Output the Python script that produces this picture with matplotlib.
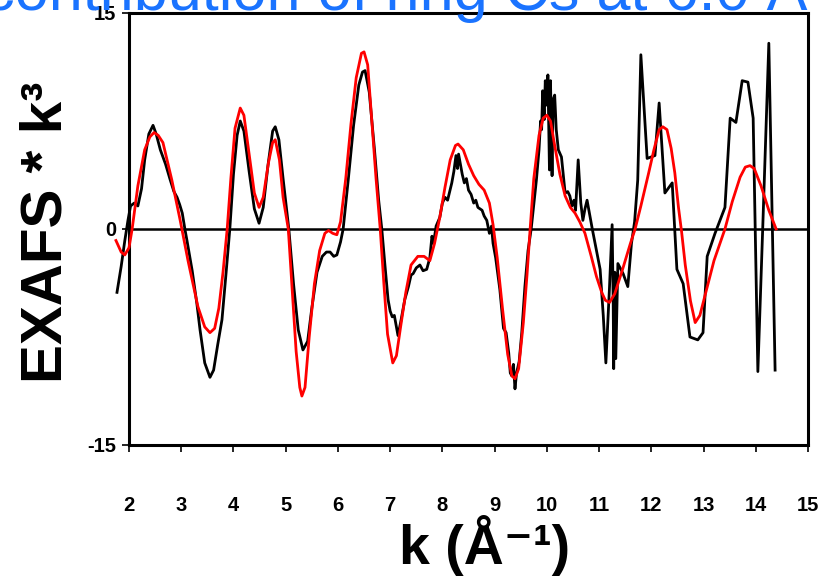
import matplotlib
matplotlib.use("Agg")
import matplotlib.pyplot as plt

plt.rcParams["axes.unicode_minus"] = False

BOLD = ["Liberation Sans", "DejaVu Sans"]

# experimental EXAFS * k^3 (black)
k_data = [1.77, 1.85, 1.92, 1.98, 2.03, 2.10, 2.17, 2.24, 2.30, 2.38, 2.46, 2.52, 2.60, 2.70,
          2.79, 2.86, 2.92, 2.97, 3.02, 3.07, 3.11, 3.21, 3.30, 3.36, 3.45, 3.55, 3.62, 3.70,
          3.78, 3.86, 3.93, 4.00, 4.07, 4.13, 4.20, 4.30, 4.40, 4.49, 4.57, 4.66, 4.75, 4.80,
          4.87, 4.95, 5.06, 5.15, 5.24, 5.33, 5.42, 5.50, 5.60, 5.70, 5.78, 5.85, 5.92, 5.98,
          6.05, 6.10, 6.20, 6.30, 6.40, 6.47, 6.52, 6.60, 6.70, 6.78, 6.84, 6.90, 6.96, 7.00,
          7.04, 7.08, 7.12, 7.15, 7.20, 7.28, 7.35, 7.40, 7.44, 7.50, 7.57, 7.63, 7.70, 7.76,
          7.80, 7.83, 7.88, 7.95, 8.00, 8.05, 8.10, 8.18, 8.22, 8.26, 8.29, 8.31, 8.34, 8.38,
          8.42, 8.46, 8.50, 8.55, 8.60, 8.64, 8.68, 8.72, 8.76, 8.80, 8.85, 8.90, 8.94, 8.97,
          9.02, 9.10, 9.17, 9.22, 9.27, 9.30, 9.33, 9.36, 9.39, 9.42, 9.47, 9.52, 9.58, 9.64,
          9.70, 9.76, 9.80, 9.85, 9.88, 9.90, 9.92, 9.95, 9.97, 10.00, 10.02, 10.05, 10.07, 10.10,
          10.12, 10.15, 10.18, 10.22, 10.28, 10.35, 10.40, 10.44, 10.48, 10.52, 10.55, 10.60,
          10.65, 10.69, 10.73, 10.77, 10.82, 10.87, 10.95, 11.02, 11.08, 11.13, 11.20, 11.25,
          11.27, 11.28, 11.30, 11.32, 11.36, 11.46, 11.55, 11.62, 11.68, 11.74, 11.80, 11.92,
          12.07, 12.15, 12.26, 12.40, 12.49, 12.61, 12.74, 12.89, 12.99, 13.07, 13.22, 13.41,
          13.51, 13.62, 13.74, 13.85, 13.95, 14.04, 14.14, 14.25, 14.37]
chi_data = [-4.4, -2.6, -0.8, 0.6, 1.6, 1.8, 1.6, 2.8, 4.8, 6.6, 7.2, 6.6, 5.5, 4.5,
            3.4, 2.6, 2.2, 1.7, 1.1, 0.0, -0.8, -2.9, -5.2, -7.0, -9.3, -10.3, -9.8, -8.0,
            -6.3, -3.0, 0.0, 3.8, 6.5, 7.5, 6.8, 4.0, 1.4, 0.4, 1.5, 4.4, 6.8, 7.1,
            6.2, 3.5, 0.0, -3.8, -7.0, -8.4, -7.8, -5.5, -3.0, -1.9, -1.6, -1.6, -1.9, -1.8,
            -0.9, 0.0, 3.5, 7.2, 10.0, 10.9, 11.0, 9.5, 5.5, 2.0, 0.0, -2.5, -4.9, -5.7,
            -6.1, -6.0, -6.8, -7.4, -6.5, -4.9, -4.0, -3.2, -3.1, -2.7, -2.5, -2.9, -2.8, -2.0,
            -0.5, -1.0, 0.2, 0.8, 1.8, 2.2, 2.0, 3.2, 4.0, 5.1, 4.2, 5.2, 4.6, 3.8,
            3.2, 3.5, 2.7, 2.4, 1.8, 2.0, 1.5, 1.4, 1.3, 0.9, 0.6, -0.3, 0.2, -1.0,
            -2.0, -4.2, -6.9, -7.2, -8.6, -10.0, -10.2, -9.4, -11.1, -10.0, -9.2, -7.2, -4.0, -1.5,
            0.0, 2.0, 3.4, 5.5, 7.5, 6.9, 9.6, 7.6, 10.3, 8.6, 10.7, 4.1, 10.3, 3.7,
            9.0, 9.3, 6.9, 5.5, 5.0, 2.5, 2.6, 2.3, 1.6, 2.0, 1.3, 4.8,
            1.8, 0.6, 1.4, 2.0, 1.0, 0.0, -1.5, -2.8, -6.0, -9.3, -4.0, 0.3,
            -5.0, -9.7, -3.0, -9.0, -2.4, -3.1, -4.0, -1.0, 0.5, 3.4, 12.1, 4.9,
            5.1, 8.75, 2.5, 3.2, -2.8, -3.8, -7.5, -7.7, -7.2, -1.9, -0.3, 1.5,
            7.7, 7.4, 10.3, 10.2, 7.7, -9.9, 0.8, 12.9, -9.8]

# fitted contribution (red)
k_fit = [1.75, 1.85, 1.92, 2.00, 2.06, 2.17, 2.30, 2.40, 2.48, 2.56, 2.65, 2.82, 2.98, 3.13,
         3.32, 3.45, 3.55, 3.64, 3.72, 3.80, 3.88, 3.95, 4.03, 4.13, 4.20, 4.30, 4.40, 4.49,
         4.57, 4.67, 4.75, 4.80, 4.88, 4.95, 5.05, 5.12, 5.20, 5.27, 5.31, 5.37, 5.45, 5.55,
         5.65, 5.75, 5.82, 5.90, 5.98, 6.05, 6.15, 6.25, 6.35, 6.45, 6.50, 6.57, 6.65, 6.73,
         6.81, 6.88, 6.95, 7.05, 7.12, 7.20, 7.30, 7.40, 7.53, 7.65, 7.76, 7.85, 7.95, 8.05,
         8.15, 8.25, 8.30, 8.40, 8.50, 8.60, 8.70, 8.80, 8.90, 8.97, 9.05, 9.15, 9.25, 9.33,
         9.39, 9.46, 9.55, 9.62, 9.68, 9.75, 9.85, 9.93, 10.00, 10.07, 10.15, 10.25, 10.35,
         10.45, 10.54, 10.63, 10.73, 10.85, 10.95, 11.05, 11.12, 11.20, 11.30, 11.45, 11.60,
         11.69, 11.80, 11.95, 12.05, 12.15, 12.22, 12.30, 12.38, 12.45, 12.52, 12.58, 12.65,
         12.75, 12.84, 12.93, 13.05, 13.20, 13.41, 13.55, 13.70, 13.80, 13.89, 13.97, 14.10,
         14.25, 14.39]
chi_fit = [-0.8, -1.6, -1.8, -1.3, 0.0, 3.0, 5.5, 6.4, 6.7, 6.5, 6.0, 3.4, 0.6, -2.2,
           -5.4, -6.8, -7.2, -6.9, -5.5, -3.0, 0.0, 3.5, 7.0, 8.4, 7.9, 5.2, 2.5, 1.5,
           2.2, 4.6, 6.0, 6.2, 4.8, 2.2, 0.0, -4.0, -8.5, -11.0, -11.6, -11.0, -7.5, -3.8,
           -1.5, -0.3, -0.1, -0.3, -0.4, 0.5, 3.5, 7.3, 10.5, 12.2, 12.3, 11.4, 7.5, 3.5,
           0.0, -3.8, -7.3, -9.3, -8.8, -6.8, -4.4, -2.5, -1.9, -1.9, -2.2, -1.0, 0.8, 2.9,
           4.8, 5.8, 5.9, 5.5, 4.5, 3.7, 3.1, 2.7, 1.8, 0.3, -2.0, -5.5, -8.7, -10.2,
           -10.4, -9.7, -6.5, -3.2, 0.0, 3.5, 6.5, 7.7, 7.9, 7.5, 5.8, 3.8, 2.3,
           1.5, 1.1, 0.5, -0.3, -1.9, -3.3, -4.4, -4.95, -5.1, -4.5, -2.8, -1.0,
           0.0, 1.6, 3.9, 5.5, 6.9, 7.1, 6.9, 5.6, 3.9, 1.5, -0.2, -2.5,
           -5.0, -6.5, -6.0, -4.3, -2.2, 0.0, 1.9, 3.6, 4.3, 4.4, 4.2, 3.0,
           1.3, 0.0]

x_ticks = list(range(2, 16))
y_ticks = [-15, 0, 15]

fig = plt.figure(figsize=(8.21, 5.79), dpi=100)
ax = fig.add_axes([129 / 821, 1 - 445 / 579, 679 / 821, 432 / 579])

ax.axhline(0, color="black", lw=1.8, zorder=1)
ax.plot(k_data, chi_data, color="black", lw=2.0, clip_on=False, zorder=2)
ax.plot(k_fit, chi_fit, color="#ff0000", lw=2.0, clip_on=False, zorder=3)

ax.set_xlim(2, 15)
ax.set_ylim(-15, 15)
ax.set_xticks(x_ticks)
ax.set_yticks(y_ticks)
for s in ax.spines.values():
    s.set_linewidth(2.2)
ax.tick_params(axis="x", direction="out", length=5, width=1.2, pad=32)
ax.tick_params(axis="y", direction="out", length=5, width=1.2, pad=4)
for lab in ax.get_xticklabels() + ax.get_yticklabels():
    lab.set_family(BOLD)
    lab.set_fontweight("bold")
    lab.set_fontsize(14.5)

fig.text(46 / 821, 1 - 232 / 579, "EXAFS * k³", rotation=90, ha="center", va="center",
         fontsize=42, fontweight="bold", family=BOLD)
fig.text(485 / 821, 1 - 546 / 579, "k (Å⁻¹)", ha="center", va="center",
         fontsize=40, fontweight="bold", family=BOLD)

# title, partly outside the canvas as in the source image
fig.text(-16 / 821, 1 - 10 / 579, "contribution of ring Cs at 6.0 Å cutoff", ha="left",
         va="baseline", fontsize=44, color="#1a73ff", family=BOLD)

fig.savefig("out.png", dpi=100)
